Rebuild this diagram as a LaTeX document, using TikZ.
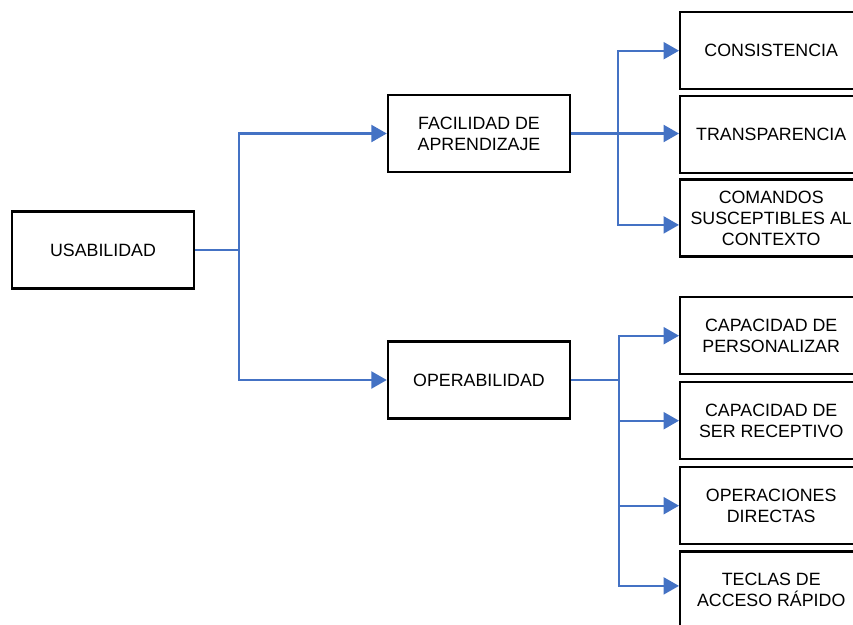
\documentclass[tikz,border=0pt]{standalone}
\usepackage{fontspec}
\setmainfont{Liberation Sans}
\usetikzlibrary{arrows.meta, positioning, calc}
\definecolor{LinkBlue}{HTML}{4472C4}
\tikzset{
  qbox/.style={draw=black, line width=2.4pt, align=center, fill=white,
    minimum width=182pt, minimum height=77pt, inner sep=1pt,
    font=\fontsize{17.8}{21}\selectfont},
  link/.style={line width=2.4pt, draw=LinkBlue},
  flow/.style={link, -{Triangle[length=15.5pt, width=17pt]}},
}

\begin{document}
\begin{tikzpicture}[x=1pt, y=-1pt]
    \useasboundingbox (0,0) rectangle (853,624);
    \clip (0,0) rectangle (853,624);
    % main branch
    \node[qbox] (usab) at (103,250) {USABILIDAD};
    \node[qbox] (facil) at (479,133.5) {FACILIDAD DE\\APRENDIZAJE};
    \node[qbox] (opera) at (479,380) {OPERABILIDAD};
    % first group
    \node[qbox, anchor=north west] (cons) at (679,11) {CONSISTENCIA};
    \node[qbox, below=4.6pt of cons] (trans) {TRANSPARENCIA};
    \node[qbox, below=3.8pt of trans] (coman) {COMANDOS\\SUSCEPTIBLES AL\\CONTEXTO};
    % second group
    \node[qbox, anchor=north west] (cpers) at (679,296) {CAPACIDAD DE\\PERSONALIZAR};
    \node[qbox, below=5.6pt of cpers] (cser) {CAPACIDAD DE\\SER RECEPTIVO};
    \node[qbox, below=5.6pt of cser] (opdir) {OPERACIONES\\DIRECTAS};
    \node[qbox, below=4.8pt of opdir] (tecl) {TECLAS DE\\ACCESO R\'APIDO};
    % junctions
    \coordinate (j1) at (239,250);
    \coordinate (j2) at (618,133.5);
    \coordinate (j3) at (619,380);
    \draw[link] (usab.east) -- (j1);
    \draw[flow] (j1) |- (facil.west);
    \draw[flow] (j1) |- (opera.west);
    \draw[flow] (facil.east) -- (facil.east -| trans.west);
    \draw[flow] (j2) |- (cons.west);
    \draw[flow] (j2) |- ($(coman.west)+(0,7)$);
    \draw[link] (opera.east) -- (j3);
    \draw[flow] (j3) |- (cpers.west);
    \draw[flow] (j3) |- (cser.west);
    \draw[flow] (j3) |- (opdir.west);
    \draw[flow] (j3) |- ($(tecl.west)+(0,-4)$);
  \end{tikzpicture}
\end{document}
